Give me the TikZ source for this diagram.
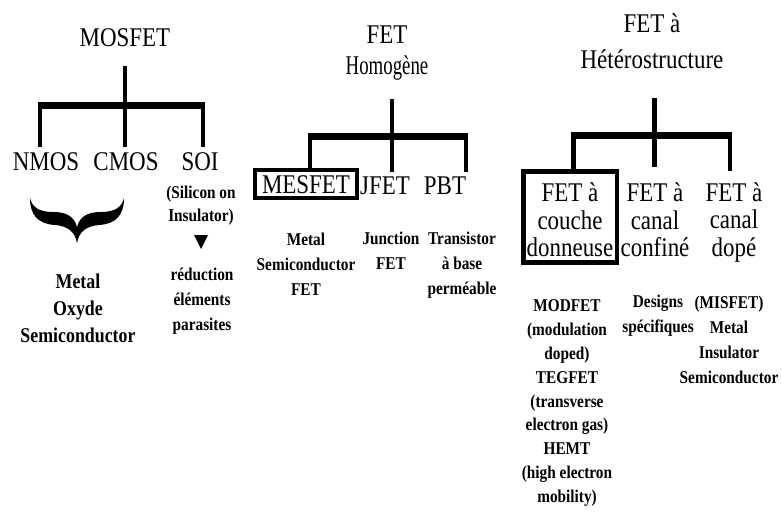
\documentclass[tikz,border=0pt]{standalone}
\usepackage{fontspec}
\setmainfont{Liberation Serif}[FakeStretch=0.85]
\begin{document}
\begin{tikzpicture}[x=1pt,y=-1pt,
  big/.style={font=\fontsize{27}{30}\selectfont, inner sep=0pt, align=center},
  small/.style={font=\fontsize{18}{25}\selectfont\bfseries, inner sep=0pt, align=center},
  vline/.style={line width=4.5pt},
  hbar/.style={line width=7pt},
  boxed/.style={draw, line width=4.5pt, inner sep=0pt}]
\fill[white] (0,0) rectangle (782,527);
\useasboundingbox (0,0) rectangle (782,527);

% ---------- MOSFET tree ----------
\node[big] (mos) at (125,38) {MOSFET};
\node[big] (nmos) at (46,162) {NMOS};
\node[big] (cmos) at (126,162) {CMOS};
\node[big] (soi) at (200,162) {SOI};
\node[small, font=\fontsize{18}{23}\selectfont\bfseries] (soisub) at (201,206) {(Silicon on\\Insulator)};
\node[small] (red) at (202,301) {réduction\\éléments\\parasites};
\node[small, font=\fontsize{21}{27}\selectfont\bfseries] (mossub) at (78,308) {Metal\\Oxyde\\Semiconductor};

\coordinate (m1top) at (125,66);
\coordinate (m1l) at (40,105);
\coordinate (m1m) at (125,105);
\coordinate (m1r) at (203,105);
\coordinate (m1ld) at (40,147);
\coordinate (m1md) at (125,147);
\coordinate (m1rd) at (203,147);
\draw[vline] (m1top) -- (m1md);
\draw[vline] (m1l) -- (m1ld);
\draw[vline] (m1r) -- (m1rd);
\draw[hbar] ([xshift=-2.25pt]m1l) -- ([xshift=2.25pt]m1r);

% triangle under SOI
\fill (194,235) -- (208,235) -- (201,249) -- cycle;

% brace under NMOS / CMOS
\fill (30,198) .. controls (30,215) and (38,224) .. (55,225)
  .. controls (68,226) and (75,232) .. (77,243)
  .. controls (79,232) and (86,226) .. (99,225)
  .. controls (116,224) and (124,215) .. (124,198)
  .. controls (122,207) and (115,212) .. (101,212)
  .. controls (88,212) and (80,216) .. (77,227)
  .. controls (74,216) and (66,212) .. (53,212)
  .. controls (39,212) and (32,207) .. (30,198) -- cycle;

% ---------- FET homogene tree ----------
\node[big, font=\fontsize{27}{31}\selectfont] (hom) at (387,53) {FET\\\scalebox{0.82}[1]{Homogène}};
\node[big, boxed, anchor=base, text height=23pt, text depth=5pt, minimum width=102pt] (mesfet) at (306,193) {MESFET};
\node[big] (jfet) at (385,186) {JFET};
\node[big] (pbt) at (445,186) {PBT};
\node[small] (mesfetsub) at (306,264) {Metal\\Semiconductor\\FET};
\node[small] (jfetsub) at (391,251) {Junction\\FET};
\node[small] (pbtsub) at (462,265) {Transistor\\à base\\perméable};

\coordinate (h2top) at (392,99);
\coordinate (h2l) at (310,136);
\coordinate (h2m) at (392,136);
\coordinate (h2r) at (466,136);
\coordinate (h2md) at (392,172);
\coordinate (h2rd) at (466,172);
\draw[vline] (h2top) -- (h2md);
\draw[vline] (h2l) -- (h2l |- mesfet.north);
\draw[vline] (h2r) -- (h2rd);
\draw[hbar] ([xshift=-2.25pt]h2l) -- ([xshift=2.25pt]h2r);

% ---------- FET heterostructure tree ----------
\node[big, font=\fontsize{27}{36}\selectfont] (het) at (652,41) {FET à\\Hétérostructure};
\node[boxed, minimum width=93.5pt, minimum height=91pt] (donbox) at (570,217) {};
\node[big, font=\fontsize{27}{27.5}\selectfont] (don) at (570,220) {FET à\\couche\\donneuse};
\node[big, font=\fontsize{27}{27.5}\selectfont] (conf) at (655,220) {FET à\\canal\\confiné};
\node[big, font=\fontsize{27}{27.5}\selectfont] (dope) at (734,222) {FET à\\canal\\dopé};
\node[small, font=\fontsize{18}{23.9}\selectfont\bfseries] (donsub) at (567,403) {MODFET\\(modulation\\doped)\\TEGFET\\(transverse\\electron gas)\\HEMT\\(high electron\\mobility)};
\node[small] (confsub) at (658,316) {Designs\\spécifiques};
\node[small] (dopesub) at (729,340) {(MISFET)\\Metal\\Insulator\\Semiconductor};

\coordinate (h3top) at (654.5,98);
\coordinate (h3l) at (573.5,135.5);
\coordinate (h3m) at (654.5,135.5);
\coordinate (h3r) at (730,135.5);
\coordinate (h3md) at (654.5,167);
\coordinate (h3rd) at (730,171);
\draw[vline] (h3top) -- (h3md);
\draw[vline] (h3l) -- (h3l |- donbox.north);
\draw[vline] (h3r) -- (h3rd);
\draw[hbar] ([xshift=-2.25pt]h3l) -- ([xshift=2.25pt]h3r);
\end{tikzpicture}
\end{document}
